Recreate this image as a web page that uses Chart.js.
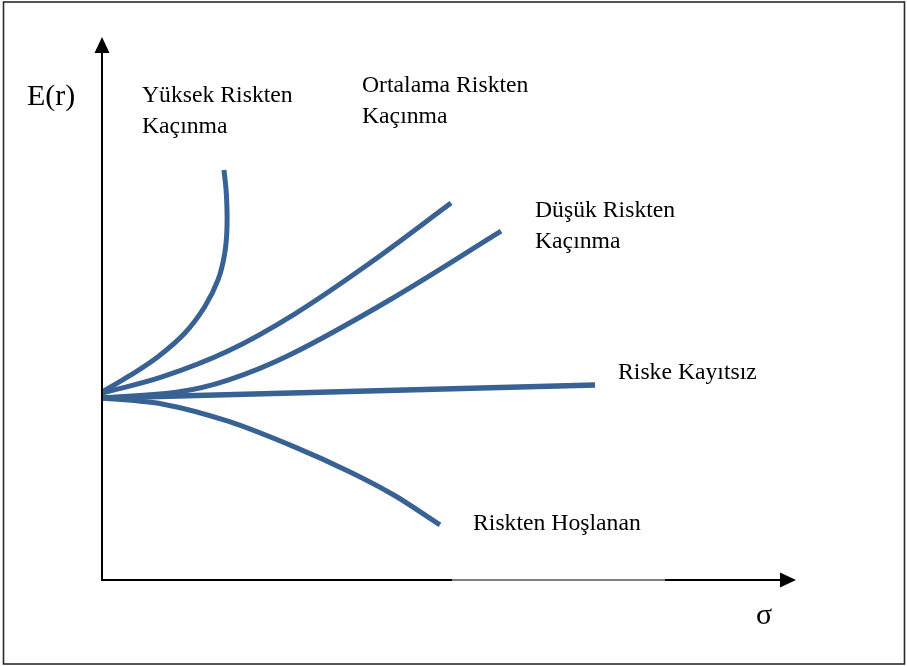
<!DOCTYPE html>
<html>
<head>
<meta charset="utf-8">
<script src="https://cdn.jsdelivr.net/npm/chart.js@4"></script>
<style>
  html, body { margin: 0; padding: 0; background: #ffffff; }
  #wrap { width: 907px; height: 666px; }
</style>
</head>
<body>
<div id="wrap"><canvas id="c" width="907" height="666"></canvas></div>
<script>
// ---- data (σ on x, E(r) on y, arbitrary units 0..100) ----
const seriesNames = ["Yüksek Riskten Kaçınma", "Ortalama Riskten Kaçınma", "Düşük Riskten Kaçınma", "Riske Kayıtsız", "Riskten Hoşlanan"];
const highX = [0, 3.75, 8.08, 11.93, 14.82, 16.74, 17.71, 18.04, 17.94, 17.60];
const highY = [34.8, 37.65, 41.35, 45.69, 50.61, 55.56, 60.5, 65.43, 71.6, 75.93];
const midX = [0, 8.66, 18.18, 27.85, 38.67, 50.36];
const midY = [34.6, 37.6, 42.4, 49.3, 58.7, 69.8];
const lowX = [0, 10.97, 18.18, 27.13, 41.56, 57.58];
const lowY = [33.7, 34.8, 37.0, 41.7, 51.9, 64.6];
const neutralX = [0, 71.14];
const neutralY = [33.7, 36.1];
const seekX = [0, 8.66, 18.18, 27.85, 35.79, 42.28, 48.77];
const seekY = [33.7, 32.6, 29.4, 24.6, 20.0, 15.6, 10.2];
const axisTitleY = "E(r)";
const axisTitleX = "σ";

const zip = (xs, ys) => xs.map((x, i) => ({ x: x, y: ys[i] }));
const BLUE = "#386194";

function ds(label, xs, ys, w, t) {
  return {
    label: label, data: zip(xs, ys), showLine: true, fill: false,
    borderColor: BLUE, borderWidth: w, pointRadius: 0, pointHoverRadius: 0,
    tension: t, clip: false, borderCapStyle: "butt", borderJoinStyle: "round"
  };
}

const decor = {
  id: "decor",
  beforeDraw(chart) {
    const ctx = chart.ctx;
    ctx.save();
    ctx.fillStyle = "#ffffff";
    ctx.fillRect(0, 0, chart.width, chart.height);
    ctx.strokeStyle = "#2b2b2b";
    ctx.lineWidth = 1.6;
    ctx.strokeRect(3.5, 2, 901, 662);
    ctx.restore();
  },
  afterDraw(chart) {
    const ctx = chart.ctx;
    const xs = chart.scales.x, ys = chart.scales.y;
    const x0 = xs.getPixelForValue(0), y0 = ys.getPixelForValue(0);
    const xEnd = xs.getPixelForValue(100), yEnd = ys.getPixelForValue(100);
    ctx.save();
    // y axis
    ctx.strokeStyle = "#000"; ctx.lineWidth = 2;
    ctx.beginPath(); ctx.moveTo(x0, y0 + 1); ctx.lineTo(x0, yEnd + 12); ctx.stroke();
    ctx.fillStyle = "#000";
    ctx.beginPath(); ctx.moveTo(x0, yEnd - 3); ctx.lineTo(x0 - 7.5, yEnd + 13); ctx.lineTo(x0 + 7.5, yEnd + 13); ctx.closePath(); ctx.fill();
    // x axis (with a lighter middle segment as in the reference)
    const segA = xs.getPixelForValue(50.5), segB = xs.getPixelForValue(81.2);
    ctx.beginPath(); ctx.moveTo(x0 - 1, y0); ctx.lineTo(segA, y0); ctx.stroke();
    ctx.beginPath(); ctx.moveTo(segB, y0); ctx.lineTo(xEnd - 14, y0); ctx.stroke();
    ctx.strokeStyle = "#555"; ctx.lineWidth = 1.4;
    ctx.beginPath(); ctx.moveTo(segA, y0); ctx.lineTo(segB, y0); ctx.stroke();
    ctx.beginPath(); ctx.moveTo(xEnd + 1, y0); ctx.lineTo(xEnd - 15, y0 - 7.5); ctx.lineTo(xEnd - 15, y0 + 7.5); ctx.closePath(); ctx.fill();
    // texts
    ctx.fillStyle = "#000";
    ctx.textBaseline = "alphabetic"; ctx.textAlign = "left";
    ctx.font = "30px 'Liberation Serif', 'Times New Roman', serif";
    ctx.fillText(axisTitleY, 27, 105);
    ctx.fillText(axisTitleX, 756, 624);
    ctx.font = "23.7px 'Liberation Serif', 'Times New Roman', serif";
    const lab = [
      ["Yüksek Riskten", 142, 102], ["Kaçınma", 142, 133],
      ["Ortalama Riskten", 362, 92], ["Kaçınma", 362, 123],
      ["Düşük Riskten", 535, 217], ["Kaçınma", 535, 248],
      ["Riske Kayıtsız", 618, 379],
      ["Riskten Hoşlanan", 473, 530]
    ];
    lab.forEach(l => ctx.fillText(l[0], l[1], l[2]));
    ctx.restore();
  }
};

new Chart(document.getElementById("c"), {
  type: "scatter",
  data: {
    datasets: [
      ds(seriesNames[0], highX, highY, 5, 0.4),
      ds(seriesNames[1], midX, midY, 5, 0.35),
      ds(seriesNames[2], lowX, lowY, 5, 0.35),
      ds(seriesNames[3], neutralX, neutralY, 5.5, 0),
      ds(seriesNames[4], seekX, seekY, 5, 0.3)
    ]
  },
  options: {
    responsive: false, animation: false, events: [],
    layout: { padding: { left: 102, right: 112, top: 40, bottom: 86 } },
    scales: {
      x: { type: "linear", min: 0, max: 100, display: false },
      y: { type: "linear", min: 0, max: 100, display: false }
    },
    plugins: { legend: { display: false }, tooltip: { enabled: false } }
  },
  plugins: [decor]
});
</script>
</body>
</html>
